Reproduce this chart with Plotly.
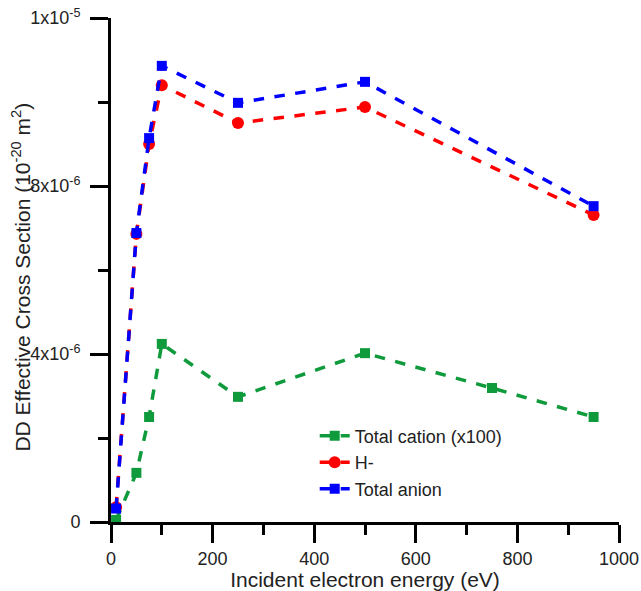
import plotly.graph_objects as go

energy_anion = [10, 50, 75, 100, 250, 500, 950]
total_anion = [0.32e-6, 6.88e-6, 9.14e-6, 10.86e-6, 9.98e-6, 10.48e-6, 7.52e-6]
h_minus = [0.35e-6, 6.86e-6, 9.0e-6, 10.4e-6, 9.5e-6, 9.88e-6, 7.31e-6]

energy_cation = [10, 50, 75, 100, 250, 500, 750, 950]
total_cation_x100 = [0.05e-6, 1.17e-6, 2.5e-6, 4.24e-6, 2.98e-6, 4.02e-6, 3.19e-6, 2.5e-6]

y_tickvals = [0, 4e-6, 8e-6, 12e-6]
y_ticktext = ["0", "4x10<sup>-6</sup>", "8x10<sup>-6</sup>", "1x10<sup>-5</sup>"]
x_tickvals = [0, 200, 400, 600, 800, 1000]

GREEN = "#0f9a3c"
RED = "#ff0000"
BLUE = "#0000ff"
FONT = "Liberation Sans, Arial, sans-serif"
TXT = "#222222"

fig = go.Figure()
fig.add_trace(go.Scatter(
    x=energy_cation, y=total_cation_x100, name="Total cation (x100)",
    mode="lines+markers",
    line=dict(color=GREEN, width=3.5, dash="dash"),
    marker=dict(symbol="square", size=10, color=GREEN),
))
fig.add_trace(go.Scatter(
    x=energy_anion, y=h_minus, name="H-",
    mode="lines+markers",
    line=dict(color=RED, width=3.5, dash="dash"),
    marker=dict(symbol="circle", size=12, color=RED),
))
fig.add_trace(go.Scatter(
    x=energy_anion, y=total_anion, name="Total anion",
    mode="lines+markers",
    line=dict(color=BLUE, width=3.5, dash="dash"),
    marker=dict(symbol="square", size=10, color=BLUE),
))

fig.update_layout(
    width=641, height=591,
    margin=dict(l=111, r=22, t=18, b=69),
    plot_bgcolor="white", paper_bgcolor="white",
    font=dict(family=FONT, size=18, color=TXT),
    showlegend=True,
    legend=dict(
        x=0.401, y=0.207, xanchor="left", yanchor="top",
        bgcolor="rgba(0,0,0,0)", borderwidth=0,
        font=dict(family=FONT, size=18, color=TXT),
        tracegroupgap=0,
    ),
    annotations=[dict(
        text="DD Effective Cross Section (10<sup>-20</sup> m<sup>2</sup>)",
        xref="paper", yref="paper", x=-90 / 508, y=0.485,
        xanchor="center", yanchor="middle", textangle=-90, showarrow=False,
        font=dict(family=FONT, size=21, color=TXT),
    )],
)
fig.update_xaxes(
    range=[0, 1000], tickvals=x_tickvals, automargin=False,
    showline=True, linecolor="black", linewidth=3,
    ticks="outside", ticklen=18, tickwidth=3, tickcolor="black",
    minor=dict(dtick=100, ticks="outside", ticklen=10, tickwidth=3, tickcolor="black"),
    showgrid=False, zeroline=False,
    title=dict(text="Incident electron energy (eV)", standoff=6,
               font=dict(family=FONT, size=21, color=TXT)),
    tickfont=dict(family=FONT, size=18, color=TXT),
)
fig.update_yaxes(
    range=[0, 12e-6], tickvals=y_tickvals, ticktext=y_ticktext, automargin=False,
    showline=True, linecolor="black", linewidth=3,
    ticks="outside", ticklen=18, tickwidth=3, tickcolor="black",
    minor=dict(tickvals=[2e-6, 6e-6, 10e-6], ticks="outside", ticklen=10, tickwidth=3, tickcolor="black"),
    showgrid=False, zeroline=False,
    ticklabelstandoff=6, ticklabeloverflow="allow",
    tickfont=dict(family=FONT, size=18, color=TXT),
)

fig.write_html("out.html", config={"displayModeBar": False},
               post_script="document.body.style.margin='0';")
